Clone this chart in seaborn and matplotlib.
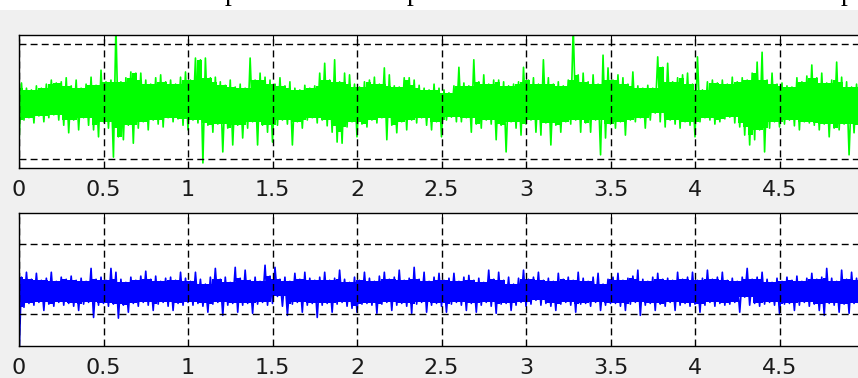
import numpy as np
import matplotlib
matplotlib.use("Agg")
import matplotlib.pyplot as plt
from matplotlib.patches import Rectangle
import seaborn as sns

sns.set_theme(style="white")
plt.rcParams["font.family"] = ["DejaVu Sans"]

# Record length in seconds; each channel is stored as alternating
# trough / peak samples, one pair per sampling interval.
T_END = 5.0

green_troughs = [
    -0.70, -0.32, -0.28, -0.37, -0.25, -0.35, -0.28, -0.23, -0.32, -0.41, -0.54, -0.32, -0.49, -0.28, -0.41,
    -0.49, -0.61, -0.35, -0.46, -0.96, -0.61, -0.66, -0.41, -0.72, -0.46, -0.35, -0.49, -0.32, -0.39, -0.44,
    -0.28, -0.35, -0.30, -0.41, -0.49, -0.32, -0.37, -1.06, -0.41, -0.53, -0.39, -0.87, -0.46, -0.75, -0.41,
    -0.63, -0.46, -0.35, -0.75, -0.41, -0.53, -0.70, -0.41, -0.32, -0.39, -0.75, -0.35, -0.46, -0.32, -0.28,
    -0.37, -0.32, -0.42, -0.53, -0.70, -0.72, -0.44, -0.35, -0.61, -0.39, -0.44, -0.32, -0.37, -0.28, -0.66,
    -0.41, -0.54, -0.35, -0.49, -0.32, -0.37, -0.28, -0.41, -0.49, -0.35, -0.61, -0.32, -0.27, -0.35, -0.35,
    -0.28, -0.53, -0.39, -0.46, -0.32, -0.39, -0.66, -0.41, -0.87, -0.35, -0.46, -0.58, -0.39, -0.32, -0.53,
    -0.58, -0.37, -0.75, -0.41, -0.53, -0.35, -0.39, -0.32, -0.53, -0.37, -0.53, -0.32, -0.92, -0.63, -0.39,
    -0.46, -0.35, -0.58, -0.32, -0.35, -0.28, -0.46, -0.32, -0.20, -0.35, -0.44, -0.32, -0.39, -0.46, -0.35,
    -0.41, -0.61, -0.35, -0.28, -0.32, -0.39, -0.35, -0.30, -0.27, -0.37, -0.44, -0.58, -0.75, -0.66, -0.49,
    -0.87, -0.46, -0.35, -0.44, -0.39, -0.32, -0.42, -0.49, -0.35, -0.37, -0.41, -0.49, -0.39, -0.61, -0.46,
    -0.49, -0.39, -0.92, -0.54, -0.41,
]
green_peaks = [
    0.32, 0.23, 0.20, 0.27, 0.23, 0.30, 0.37, 0.32, 0.34, 0.41, 0.27, 0.37, 0.23, 0.30, 0.42,
    0.28, 0.54, 0.34, 0.37, 1.30, 0.34, 0.41, 0.51, 0.49, 0.49, 0.37, 0.30, 0.41, 0.46, 0.34,
    0.37, 0.30, 0.42, 0.51, 0.37, 0.75, 0.72, 0.75, 0.41, 0.42, 0.34, 0.28, 0.37, 0.25, 0.30,
    0.23, 0.75, 0.37, 0.49, 0.42, 0.37, 0.30, 0.41, 0.27, 0.34, 0.23, 0.20, 0.28, 0.23, 0.27,
    0.49, 0.66, 0.37, 0.72, 0.34, 0.49, 0.46, 0.30, 0.25, 0.34, 0.37, 0.42, 0.30, 0.58, 0.46,
    0.27, 0.25, 0.41, 0.41, 0.37, 0.28, 0.23, 0.20, 0.30, 0.23, 0.20, 0.15, 0.27, 0.59, 0.32,
    0.27, 0.72, 0.34, 0.46, 0.30, 0.37, 0.37, 0.34, 0.27, 0.30, 0.34, 0.59, 0.37, 0.41, 0.30,
    0.72, 0.41, 0.30, 0.34, 0.27, 0.37, 1.30, 0.46, 0.49, 0.34, 0.46, 0.30, 0.80, 0.58, 0.37,
    0.46, 0.41, 0.30, 0.51, 0.27, 0.23, 0.28, 0.23, 0.77, 0.59, 0.66, 0.34, 0.41, 0.46, 0.49,
    0.30, 0.77, 0.20, 0.34, 0.37, 0.32, 0.37, 0.30, 0.42, 0.34, 0.41, 0.37, 0.49, 0.68, 0.85,
    0.37, 0.49, 0.30, 0.32, 0.27, 0.25, 0.41, 0.34, 0.44, 0.63, 0.41, 0.49, 0.32, 0.37, 0.68,
    0.42, 0.34, 0.25, 0.30, 0.37,
]

blue_troughs = [
    -2.30, -0.80, -0.69, -0.74, -0.66, -0.89, -0.71, -0.77, -0.66, -0.74, -0.69, -0.77, -0.89, -0.71, -0.66,
    -1.09, -0.74, -0.69, -0.77, -0.71, -1.11, -0.74, -0.94, -0.69, -0.77, -0.66, -0.74, -0.89, -0.71, -0.66,
    -0.77, -0.89, -0.69, -0.74, -0.66, -0.74, -0.69, -0.77, -0.94, -0.71, -0.66, -1.03, -0.74, -0.69, -0.94,
    -0.74, -0.69, -0.97, -0.71, -0.66, -0.74, -0.69, -0.49, -0.77, -1.03, -0.71, -0.66, -0.94, -0.74, -0.69,
    -1.09, -0.74, -0.69, -0.94, -0.71, -0.66, -0.77, -0.83, -0.94, -0.71, -0.69, -0.74, -0.97, -0.71, -0.66,
    -0.89, -0.74, -0.69, -0.77, -0.97, -0.71, -0.66, -0.94, -0.74, -0.69, -0.77, -0.94, -0.71, -0.66, -0.74,
    -0.89, -0.69, -0.94, -0.74, -0.66, -0.77, -0.97, -0.71, -0.69, -0.89, -0.74, -0.66, -0.77, -0.71, -0.60,
    -0.74, -0.69, -0.77, -0.89, -0.71, -0.66, -0.74, -0.94, -0.71, -0.69, -0.77, -0.66, -0.89, -0.74, -0.69,
    -0.69, -0.77, -0.89, -0.71, -0.66, -1.03, -0.74, -0.69, -0.89, -0.71, -0.77, -0.66, -0.89, -0.74, -0.69,
    -0.77, -0.71, -0.94, -0.74, -0.66, -0.77, -0.69, -0.74, -0.71, -0.66, -0.94, -0.51, -0.74, -0.69, -0.77,
    -0.71, -0.66, -0.74, -0.97, -0.71, -0.69, -0.89, -0.74, -0.66, -0.77, -0.71, -0.89, -1.03, -0.69, -0.74,
    -0.94, -0.71, -0.97, -0.69, -0.77,
]
blue_peaks = [
    0.06, 0.20, 0.00, 0.17, -0.03, 0.03, 0.20, -0.06, 0.06, 0.00, 0.09, -0.03, 0.03, -0.06, 0.31,
    0.00, 0.06, -0.03, 0.31, 0.20, 0.00, -0.09, 0.06, -0.03, 0.09, 0.23, 0.00, 0.09, -0.06, 0.03,
    0.06, -0.03, 0.20, 0.03, -0.06, 0.20, 0.00, -0.14, 0.06, 0.31, 0.00, 0.06, -0.09, 0.34, 0.03,
    0.26, -0.03, 0.06, -0.06, 0.40, 0.09, 0.34, 0.00, 0.06, -0.06, 0.17, 0.00, 0.20, 0.03, -0.03,
    0.06, 0.20, -0.03, 0.03, 0.26, 0.00, -0.09, 0.06, -0.03, 0.20, 0.03, -0.06, 0.09, 0.20, 0.00,
    0.06, 0.26, -0.03, 0.03, 0.34, 0.00, 0.20, -0.06, 0.06, 0.17, -0.03, 0.03, 0.17, -0.06, 0.06,
    0.11, -0.03, 0.03, -0.09, 0.26, 0.00, 0.20, -0.03, 0.06, -0.14, 0.03, 0.26, 0.00, 0.06, 0.20,
    -0.03, 0.03, -0.06, 0.17, 0.00, 0.06, -0.03, 0.20, 0.03, -0.06, 0.06, 0.17, -0.14, 0.00, 0.06,
    0.17, -0.03, 0.03, 0.09, 0.26, 0.00, -0.06, 0.06, 0.17, 0.00, 0.03, -0.03, 0.20, 0.00, 0.06,
    0.20, -0.03, 0.03, 0.26, 0.00, 0.06, 0.20, -0.03, 0.03, -0.06, 0.06, 0.31, 0.00, 0.06, 0.20,
    0.00, -0.09, 0.03, -0.06, 0.06, -0.03, 0.09, -0.06, 0.03, 0.17, 0.00, 0.06, 0.31, 0.03, -0.06,
    0.26, 0.00, 0.20, 0.03, -0.03,
]

x_ticks = [0, 0.5, 1, 1.5, 2, 2.5, 3, 3.5, 4, 4.5]
x_tick_labels = ["0", "0.5", "1", "1.5", "2", "2.5", "3", "3.5", "4", "4.5"]
y_ticks = [-1, 1]


def interleave(troughs, peaks, t_end):
    """Merge trough/peak samples into one time-ordered trace."""
    n = len(peaks)
    dt = t_end / n
    t = np.empty(2 * n)
    y = np.empty(2 * n)
    t[0::2] = np.arange(n) * dt
    t[1::2] = (np.arange(n) + 0.5) * dt
    y[0::2] = troughs
    y[1::2] = peaks
    return t, y


def core_band(troughs, peaks, t_end):
    """Solid inner band: tightest envelope over each sample and its neighbours."""
    lo = np.asarray(troughs, float)
    hi = np.asarray(peaks, float)
    n = len(hi)
    dt = t_end / n
    hi_core = np.minimum.reduce([np.r_[hi[0], hi[:-1]], hi, np.r_[hi[1:], hi[-1]]])
    lo_core = np.maximum.reduce([np.r_[lo[0], lo[:-1]], lo, np.r_[lo[1:], lo[-1]]])
    tc = (np.arange(n) + 0.25) * dt
    return tc, lo_core, hi_core


W, H = 858, 378
fig = plt.figure(figsize=(W / 100, H / 100), dpi=100, facecolor="#f0f0f0")

# white page strip above the figure window, with the bottom of a caption line
fig.patches.append(Rectangle((0, 1 - 10 / H), 1, 10 / H, transform=fig.transFigure,
                             facecolor="white", edgecolor="none", zorder=0))
for xp in (232, 414, 848):
    fig.text(xp / W, 1.0, "p", family="Liberation Serif", fontsize=20,
             color="black", ha="center", va="baseline")

ax_top = fig.add_axes([19 / W, (H - 168) / H, 845 / W, 133 / H])
ax_bot = fig.add_axes([19 / W, (H - 345.5) / H, 845 / W, 132.5 / H])

panels = [
    (ax_top, green_troughs, green_peaks, "#00ff00", 1.147),
    (ax_bot, blue_troughs, blue_peaks, "#0000ff", 1.89),
]

for ax, lo, hi, col, ylim in panels:
    t, y = interleave(lo, hi, T_END)
    tc, lo_core, hi_core = core_band(lo, hi, T_END)
    ax.fill_between(tc, lo_core, hi_core, step="mid", color=col,
                    linewidth=0, zorder=1.9)
    sns.lineplot(x=t, y=y, ax=ax, color=col, linewidth=1.2,
                 estimator=None, sort=False, legend=False)
    ax.set_facecolor("white")
    ax.set_xlim(0, T_END)
    ax.set_ylim(-ylim, ylim)
    ax.set_xticks(x_ticks)
    ax.set_xticklabels(x_tick_labels)
    ax.set_yticks(y_ticks)
    ax.set_yticklabels([])
    ax.set_xlabel("")
    ax.set_ylabel("")
    ax.set_axisbelow(False)
    ax.grid(True, color="black", linestyle=(0, (5, 3)), linewidth=1.0)
    ax.tick_params(axis="both", direction="in", length=4, width=0.8,
                   top=True, right=True, color="black")
    ax.tick_params(axis="x", labelsize=16, pad=9, labelcolor="#1a1a1a")
    for sp in ax.spines.values():
        sp.set_visible(True)
        sp.set_color("black")
        sp.set_linewidth(1.0)

fig.savefig("out.png", dpi=100, facecolor=fig.get_facecolor())
